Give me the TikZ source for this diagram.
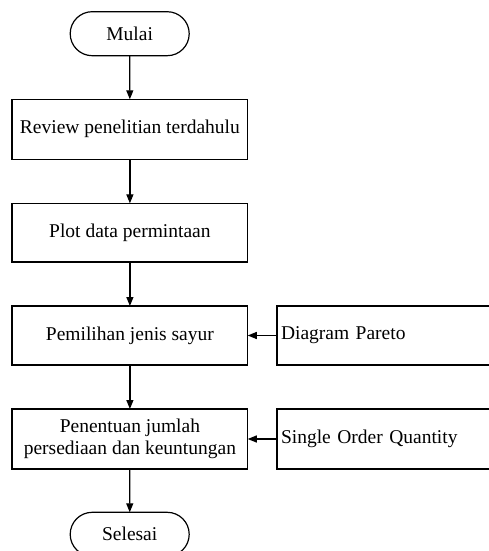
\documentclass[tikz,border=0pt]{standalone}
\usepackage{fontspec}
\setmainfont{Liberation Serif}
\usetikzlibrary{arrows.meta}
\begin{document}
\begin{tikzpicture}[x=1pt,y=-1pt,
  every node/.style={font=\fontsize{19.5}{22}\selectfont, line width=1.2pt, inner sep=0pt, outer sep=0pt},
  term/.style={draw, rounded corners=22pt, minimum width=119pt, minimum height=44pt},
  proc/.style={draw, minimum width=235.7pt, align=center},
  side/.style={draw, anchor=west, minimum width=283pt, text width=275pt, align=left},
  flow/.style={line width=1.2pt, -{Triangle[length=9pt,width=7pt]}}
]
\useasboundingbox (0,0) rectangle (489,551);
\node[term] (start) at (129.7,33.7) {Mulai};
\node[proc, minimum height=60pt] (review) at (129.9,129.3) {Review penelitian terdahulu};
\node[proc, minimum height=58.7pt] (plot) at (129.9,232.7) {Plot data permintaan};
\node[proc, minimum height=59pt] (pilih) at (129.9,335.5) {Pemilihan jenis sayur};
\node[proc, minimum height=60pt] (tentu) at (129.9,439) {Penentuan jumlah\\persediaan dan keuntungan};
\node[term] (end) at (129.7,534.3) {Selesai};
\node[side, minimum height=59pt] (pareto) at (277,335.5) {Diagram Pareto};
\node[side, minimum height=60pt] (soq) at (277,439) {Single Order Quantity};
\draw[flow] (start) -- (review);
\draw[flow] (review) -- (plot);
\draw[flow] (plot) -- (pilih);
\draw[flow] (pilih) -- (tentu);
\draw[flow] (tentu) -- (end);
\draw[flow] (pareto.west) -- (pilih.east);
\draw[flow] (soq.west) -- (tentu.east);
\end{tikzpicture}
\end{document}
